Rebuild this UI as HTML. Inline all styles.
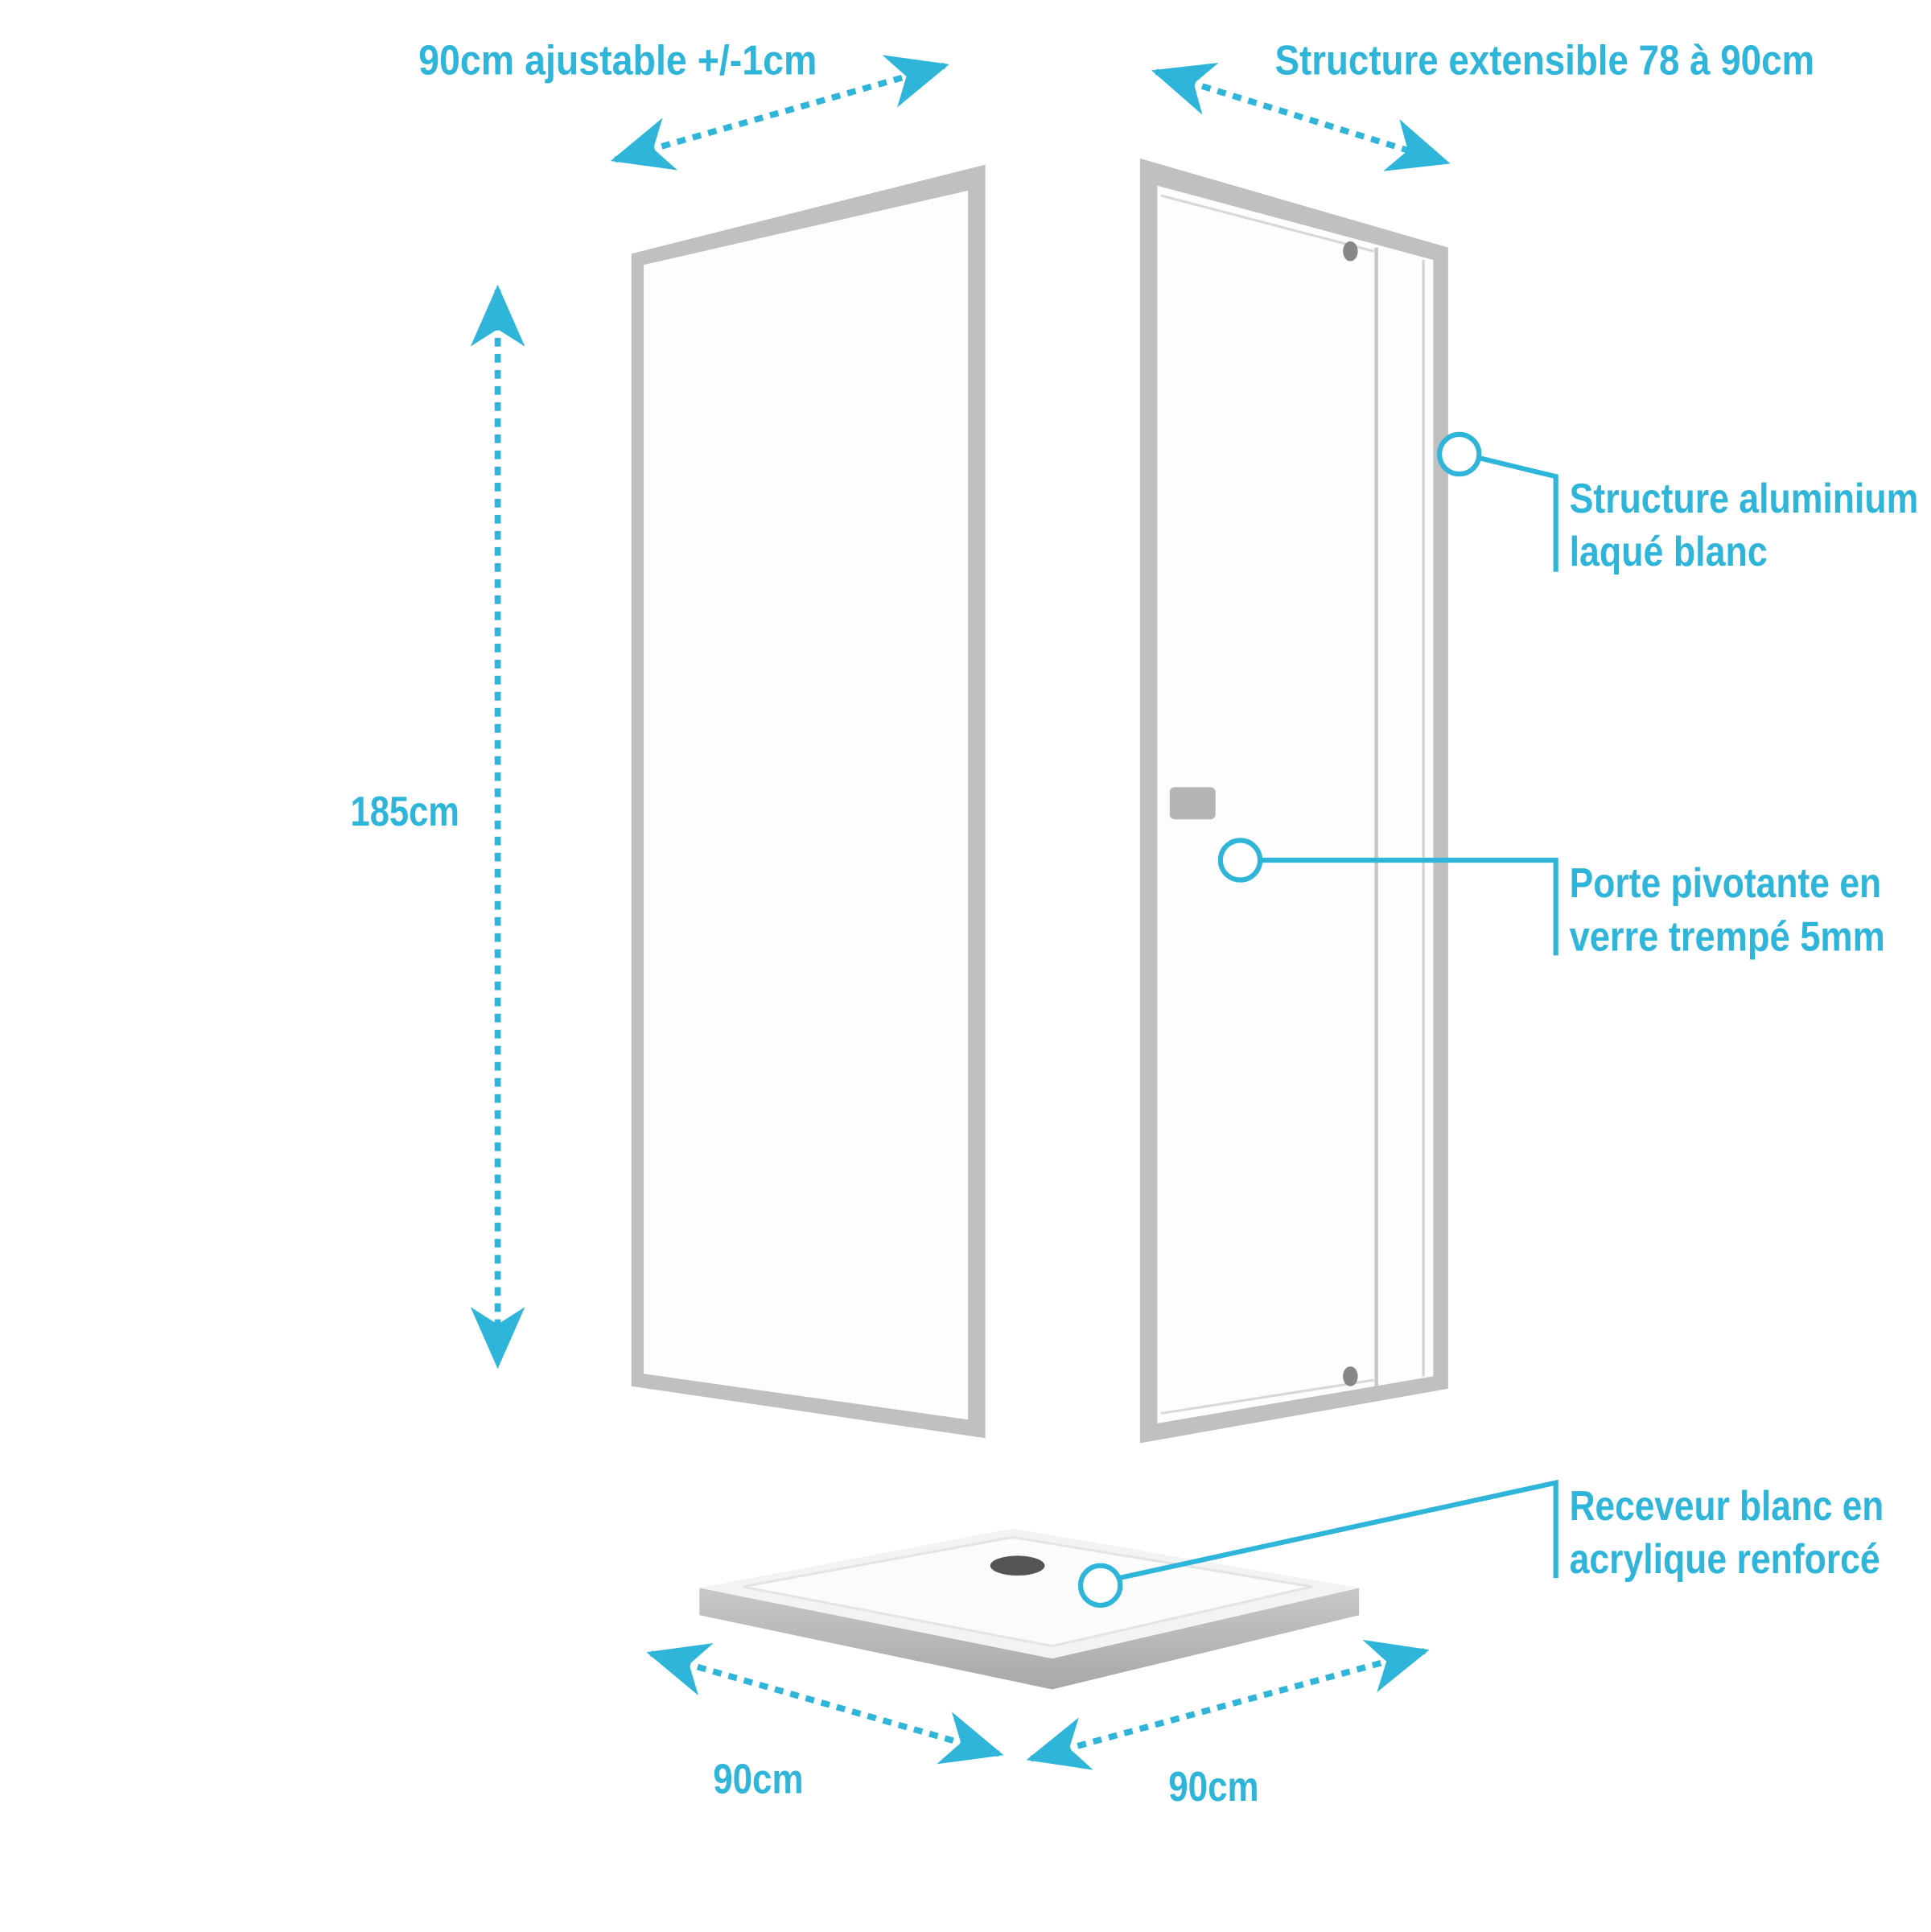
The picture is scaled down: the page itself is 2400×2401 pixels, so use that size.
<!DOCTYPE html>
<html><head><meta charset="utf-8"><style>
html,body{margin:0;padding:0;background:#fff}
svg{display:block}
text{font-family:"Liberation Sans Narrow","Liberation Sans",sans-serif;font-weight:bold;fill:#2fb5d9;font-size:34px}
</style></head><body>
<svg width="2400" height="2401" viewBox="0 0 1560 1561" xmlns="http://www.w3.org/2000/svg">
<defs>
<marker id="ah" viewBox="-50 -25 55 50" refX="0" refY="0" markerWidth="55" markerHeight="50" markerUnits="userSpaceOnUse" orient="auto-start-reverse">
<path d="M4,0 L-46,-22 L-32,0 L-46,22 Z" fill="#2fb5d9"/>
</marker>
<linearGradient id="side" x1="0" y1="0" x2="0" y2="1"><stop offset="0" stop-color="#c8c8c8"/><stop offset="1" stop-color="#a8a8a8"/></linearGradient>
</defs>
<g fill="none" stroke="#2fb5d9" stroke-width="5" stroke-dasharray="7 6" marker-start="url(#ah)" marker-end="url(#ah)">
<line x1="497" y1="129" x2="763" y2="53"/>
<line x1="934" y1="58" x2="1168" y2="131"/>
<line x1="402" y1="234" x2="402" y2="1102"/>
<line x1="526" y1="1336" x2="807" y2="1417"/>
<line x1="833" y1="1421" x2="1151" y2="1334"/>
</g>
<!-- left panel -->
<polygon points="510,205 796,133 796,1162 510,1120" fill="#c0c0c0"/>
<polygon points="520,214 782,154 782,1147 520,1110" fill="#fdfdfd"/>
<!-- right panel -->
<polygon points="921,128 1170,200 1170,1122 921,1166" fill="#c0c0c0"/>
<polygon points="935,150 1158,210 1158,1112 935,1150" fill="#fdfdfd"/>
<line x1="1112" y1="200" x2="1112" y2="1120" stroke="#c8c8c8" stroke-width="3"/>
<line x1="1150" y1="210" x2="1150" y2="1112" stroke="#d0d0d0" stroke-width="2"/>
<line x1="938" y1="158" x2="1110" y2="203" stroke="#d8d8d8" stroke-width="2"/>
<line x1="938" y1="1142" x2="1110" y2="1115" stroke="#d8d8d8" stroke-width="2"/>
<ellipse cx="1091" cy="203" rx="6" ry="8" fill="#888"/>
<ellipse cx="1091" cy="1112" rx="6" ry="8" fill="#888"/>
<rect x="945" y="636" width="37" height="26" rx="4" fill="#b5b5b5"/>
<!-- tray -->
<polygon points="565,1283 850,1340 1098,1283 1098,1305 850,1365 565,1305" fill="url(#side)"/>
<polygon points="565,1283 818,1235 1098,1283 850,1340" fill="#f3f3f3"/>
<polygon points="600,1282 818,1242 1060,1282 850,1330" fill="#fbfbfb" stroke="#e4e4e4" stroke-width="2"/>
<ellipse cx="822" cy="1265" rx="22" ry="8" fill="#555"/>
<!-- callouts -->
<g fill="none" stroke="#2fb5d9" stroke-width="4">
<polyline points="1195,370 1257,385 1257,462"/>
<polyline points="1018,695 1257,695 1257,772"/>
<polyline points="904,1275 1257,1198 1257,1275"/>
</g>
<g fill="#fff" stroke="#2fb5d9" stroke-width="4">
<circle cx="1179" cy="367" r="16"/>
<circle cx="1002" cy="695" r="16"/>
<circle cx="889" cy="1281" r="16"/>
</g>
<text x="338" y="60" textLength="322" lengthAdjust="spacingAndGlyphs">90cm ajustable +/-1cm</text>
<text x="1030" y="60" textLength="436" lengthAdjust="spacingAndGlyphs">Structure extensible 78 à 90cm</text>
<text x="283" y="667" textLength="88" lengthAdjust="spacingAndGlyphs">185cm</text>
<text x="576" y="1449" textLength="73" lengthAdjust="spacingAndGlyphs">90cm</text>
<text x="944" y="1455" textLength="73" lengthAdjust="spacingAndGlyphs">90cm</text>
<text x="1268" y="414" textLength="282" lengthAdjust="spacingAndGlyphs">Structure aluminium</text>
<text x="1268" y="457" textLength="160" lengthAdjust="spacingAndGlyphs">laqué blanc</text>
<text x="1268" y="725" textLength="252" lengthAdjust="spacingAndGlyphs">Porte pivotante en</text>
<text x="1268" y="768" textLength="255" lengthAdjust="spacingAndGlyphs">verre trempé 5mm</text>
<text x="1268" y="1228" textLength="254" lengthAdjust="spacingAndGlyphs">Receveur blanc en</text>
<text x="1268" y="1271" textLength="251" lengthAdjust="spacingAndGlyphs">acrylique renforcé</text>
</svg>
</body></html>
